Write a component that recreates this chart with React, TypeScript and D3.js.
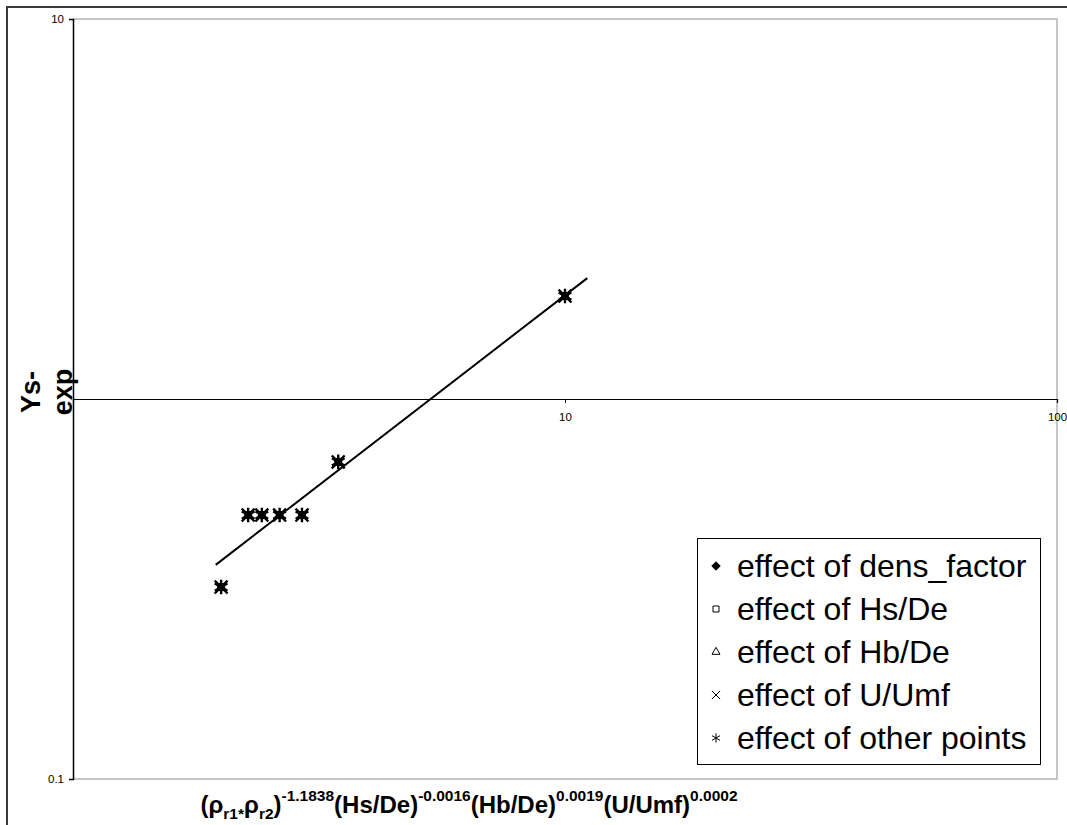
import React from "react";
import * as d3 from "d3";

// measured points (x = combined group, y = Ys-exp)
const pointX = [2.0, 2.27, 2.42, 2.63, 2.92, 3.46, 10.0];
const pointY = [0.32, 0.495, 0.495, 0.495, 0.495, 0.683, 1.866];

// power trendline endpoints
const trendX = [1.95, 11.1];
const trendY = [0.366, 2.08];

const xTickValues = [10, 100];
const yTickValues = [0.1, 10];

const legendLabels = [
  "effect of dens_factor",
  "effect of Hs/De",
  "effect of Hb/De",
  "effect of U/Umf",
  "effect of other points",
];
const legendSymbols = ["diamond", "square", "triangle", "x", "asterisk"];

const width = 1067;
const height = 825;
const plotLeft = 73;
const plotRight = 1057;
const plotTop = 19;
const plotBottom = 779;
const font = "Arial, 'Liberation Sans', sans-serif";

export default function App() {
  const svgRef = React.useRef<SVGSVGElement>(null);

  React.useEffect(() => {
    const svg = d3.select(svgRef.current);
    svg.selectAll("*").remove();

    const x = d3.scaleLog().domain([1, 100]).range([plotLeft, plotRight]);
    const y = d3.scaleLog().domain([0.1, 10]).range([plotBottom, plotTop]);

    svg.append("rect").attr("width", width).attr("height", height).attr("fill", "#fff");

    // outer chart border
    svg.append("path")
      .attr("d", `M7,${height} L7,7 L${width},7`)
      .attr("fill", "none")
      .attr("stroke", "#3a3a3a")
      .attr("stroke-width", 2);

    // plot area border
    svg.append("path")
      .attr("d", `M${plotLeft},${plotTop} L${plotRight},${plotTop} L${plotRight},${plotBottom} L${plotLeft},${plotBottom}`)
      .attr("fill", "none")
      .attr("stroke", "#b4b4b4")
      .attr("stroke-width", 1.5);

    // y axis
    const yAxis = svg.append("g")
      .attr("transform", `translate(${plotLeft},0)`)
      .call(d3.axisLeft(y).tickValues(yTickValues).tickSize(4).tickPadding(5).tickFormat(d3.format("")));
    yAxis.select(".domain").attr("stroke", "#000").attr("stroke-width", 1.5);
    yAxis.selectAll("text").attr("font-family", font).attr("font-size", 11.5).attr("fill", "#000");

    // x axis crosses at y = 1
    const xAxis = svg.append("g")
      .attr("transform", `translate(0,${y(1)})`)
      .call(d3.axisBottom(x).tickValues(xTickValues).tickSize(4).tickPadding(10).tickFormat(d3.format("")));
    xAxis.select(".domain").attr("stroke", "#000").attr("stroke-width", 1.2);
    xAxis.selectAll("text").attr("font-family", font).attr("font-size", 11.5).attr("fill", "#000");

    // trendline
    const line = d3.line<number>()
      .x((d, i) => x(trendX[i]))
      .y(d => y(d));
    svg.append("path")
      .datum(trendY)
      .attr("d", line)
      .attr("fill", "none")
      .attr("stroke", "#000")
      .attr("stroke-width", 2);

    // points: stacked markers look like a dark star blob
    const pts = pointX.map((v, i) => ({ x: v, y: pointY[i] }));
    const g = svg.append("g");
    g.selectAll(".sq")
      .data(pts)
      .enter()
      .append("path")
      .attr("d", d3.symbol(d3.symbolSquare, 64)())
      .attr("transform", d => `translate(${x(d.x)},${y(d.y)})`)
      .attr("fill", "#000");
    g.selectAll(".star")
      .data(pts)
      .enter()
      .append("path")
      .attr("d", d3.symbol(d3.symbolAsterisk, 150)())
      .attr("transform", d => `translate(${x(d.x)},${y(d.y)})`)
      .attr("fill", "none")
      .attr("stroke", "#000")
      .attr("stroke-width", 2.4);
    g.selectAll(".xx")
      .data(pts)
      .enter()
      .append("path")
      .attr("d", d3.symbol(d3.symbolX, 110)())
      .attr("transform", d => `translate(${x(d.x)},${y(d.y)})`)
      .attr("fill", "none")
      .attr("stroke", "#000")
      .attr("stroke-width", 2.4);

    // axis titles
    const yTitle = svg.append("text")
      .attr("transform", `translate(40,392) rotate(-90)`)
      .attr("font-family", font)
      .attr("font-weight", "bold")
      .attr("font-size", 27)
      .attr("text-anchor", "middle");
    yTitle.append("tspan").attr("x", 0).attr("y", 0).text("Ys-");
    yTitle.append("tspan").attr("x", 0).attr("dy", 32).text("exp");

    const xTitle = svg.append("text")
      .attr("x", 469)
      .attr("y", 813)
      .attr("font-family", font)
      .attr("font-weight", "bold")
      .attr("font-size", 24)
      .attr("text-anchor", "middle");
    const parts: [string, number][] = [
      ["(ρ", 0], ["r1", 1], ["*", 1], ["ρ", 0], ["r2", 1], [")", 0], ["-1.1838", -1],
      ["(Hs/De)", 0], ["-0.0016", -1],
      ["(Hb/De)", 0], ["0.0019", -1],
      ["(U/Umf)", 0], ["0.0002", -1],
    ];
    let shift = 0;
    parts.forEach(([t, k]) => {
      const target = k === 1 ? 6 : k === -1 ? -12 : 0;
      xTitle.append("tspan")
        .attr("dy", target - shift)
        .attr("font-size", k === 0 ? 24 : 15.5)
        .text(t);
      shift = target;
    });

    // legend
    const lg = svg.append("g");
    lg.append("rect")
      .attr("x", 697.5)
      .attr("y", 538.5)
      .attr("width", 343)
      .attr("height", 226)
      .attr("fill", "#fff")
      .attr("stroke", "#000")
      .attr("stroke-width", 1);
    const symbolFor: Record<string, d3.SymbolType> = {
      diamond: d3.symbolDiamond2,
      square: d3.symbolSquare2,
      triangle: d3.symbolTriangle2,
      x: d3.symbolX,
      asterisk: d3.symbolAsterisk,
    };
    legendLabels.forEach((label, i) => {
      const cy = 566 + i * 43;
      const s = legendSymbols[i];
      lg.append("path")
        .attr("d", d3.symbol(symbolFor[s], s === "asterisk" ? 60 : 46)())
        .attr("transform", `translate(716,${cy})`)
        .attr("fill", s === "diamond" ? "#000" : "none")
        .attr("stroke", "#000")
        .attr("stroke-width", 1);
      lg.append("text")
        .attr("x", 737)
        .attr("y", cy + 11)
        .attr("font-family", font)
        .attr("font-size", 32)
        .attr("fill", "#000")
        .text(label);
    });
  }, []);

  return (
    <svg
      ref={svgRef}
      width={width}
      height={height}
      style={{ position: "absolute", left: 0, top: 0 }}
    />
  );
}
